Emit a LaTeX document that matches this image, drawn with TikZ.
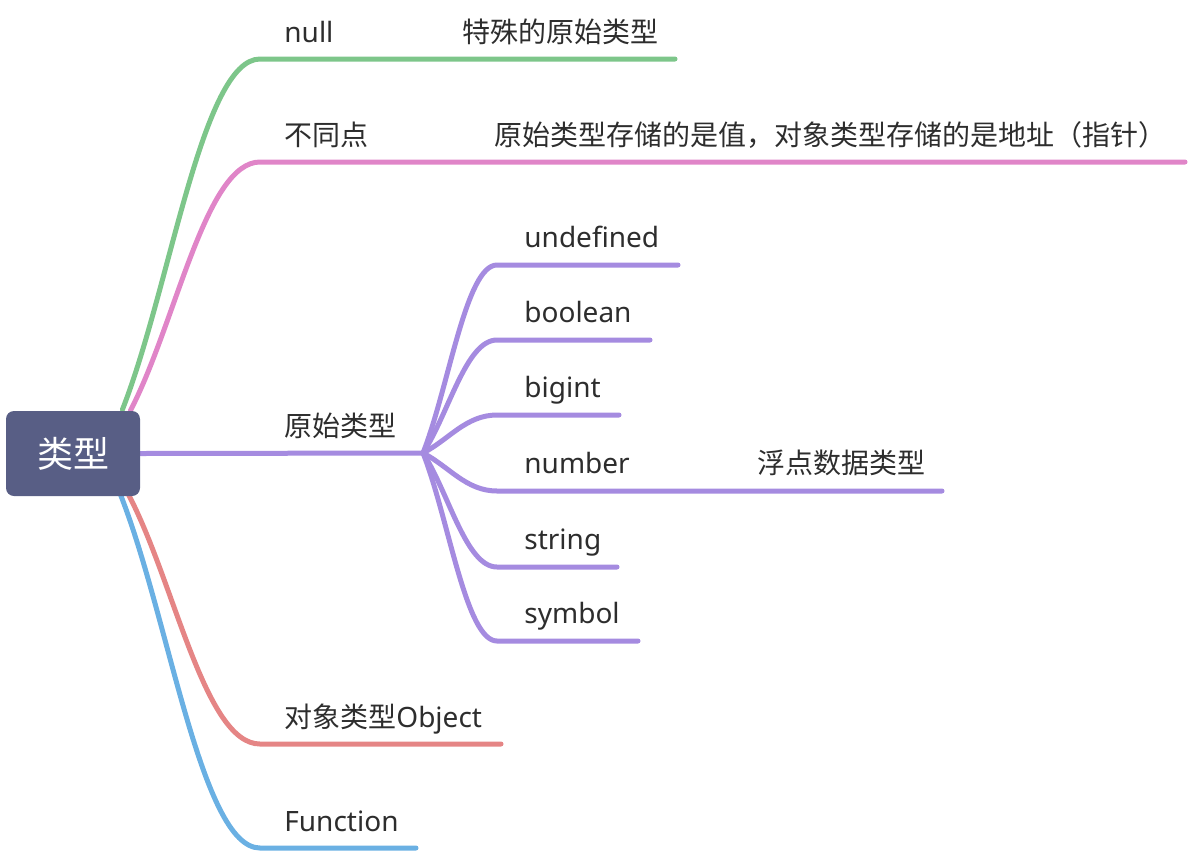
\documentclass[tikz,border=0pt]{standalone}
\usepackage{fontspec}
\setmainfont{Noto Sans}
\newfontfamily\cjk{Noto Sans CJK SC}
\usepackage{tikz}
\usetikzlibrary{calc,backgrounds}
\definecolor{rootblue}{RGB}{88,94,133}
\definecolor{txtgray}{RGB}{45,45,45}
\definecolor{brgreen}{RGB}{125,198,138}
\definecolor{brpink}{RGB}{224,133,200}
\definecolor{brpurple}{RGB}{165,139,224}
\definecolor{brred}{RGB}{229,133,133}
\definecolor{brblue}{RGB}{106,176,227}

\begin{document}
\begin{tikzpicture}[
  x=0.5pt, y=-0.5pt,
  root/.style={fill=rootblue, rounded corners=4pt, minimum width=67pt, minimum height=42.5pt, text=white, font=\cjk\fontsize{18}{20}\selectfont, inner sep=0pt},
  lbl/.style={anchor=base west, inner sep=0pt, text=txtgray, font=\fontsize{14}{16}\selectfont},
  branch/.style={line width=2.5pt, line cap=round,
    to path={.. controls ($(\tikztostart)!0.35!(\tikztotarget)$) and ($(\tikztotarget)!0.42!(\tikztotarget -| \tikztostart)$) .. (\tikztotarget)}},
]
\useasboundingbox (0,0) rectangle (1188,852);

\node[root] (root) at (73,453.5) {类型};

% first level
\node[lbl] (null) at (284,42) {null};
\node[lbl] (diff) at (284,145) {\cjk 不同点};
\node[lbl] (prim) at (284,436) {\cjk 原始类型};
\node[lbl] (obj) at (284,727) {{\cjk 对象类型}Object};
\node[lbl] (func) at (284,831) {Function};

% second level
\node[lbl] (special) at (462,42) {\cjk 特殊的原始类型};
\node[lbl] (store) at (494,145) {\cjk 原始类型存储的是值，对象类型存储的是地址（指针）};
\node[lbl] (float) at (757,473) {\cjk 浮点数据类型};

\coordinate (g0) at ($(root.north east)+(-18,-1)$);
\coordinate (p0) at ($(root.north east)+(-10,0)$);
\coordinate (r0) at ($(root.south east)+(-12,-2)$);
\coordinate (b0) at ($(root.south east)+(-20,-2)$);
\coordinate (jn) at (423,453);

\coordinate (nullL) at (260,59);   \coordinate (nullE) at (675,59);
\coordinate (diffL) at (260,162);  \coordinate (diffE) at (1185,162);
\coordinate (objL) at (260,744);   \coordinate (objE) at (501,744);
\coordinate (funcL) at (260,848);  \coordinate (funcE) at (416,848);

\begin{scope}[on background layer]
\draw[branch, brgreen] (g0) to (nullL) -- (nullE);
\draw[branch, brpink] (p0) to (diffL) -- (diffE);
\draw[branch, brred] (r0) to (objL) -- (objE);
\draw[branch, brblue] (b0) to (funcL) -- (funcE);
\draw[branch, brpurple] (root.east) -- (jn);
\end{scope}

% primitive types
\foreach \n/\t/\y/\e in {undef/undefined/265/678, bool/boolean/340/650, bigi/bigint/415/619,
    numb/number/491/942, strg/string/567/617, symb/symbol/641/638} {
  \node[lbl] (\n) at (524,\y-18) {\t};
  \coordinate (\n-l) at (497,\y);
  \coordinate (\n-e) at (\e,\y);
  \draw[branch, brpurple] (jn) to (\n-l) -- (\n-e);
}
\end{tikzpicture}
\end{document}
